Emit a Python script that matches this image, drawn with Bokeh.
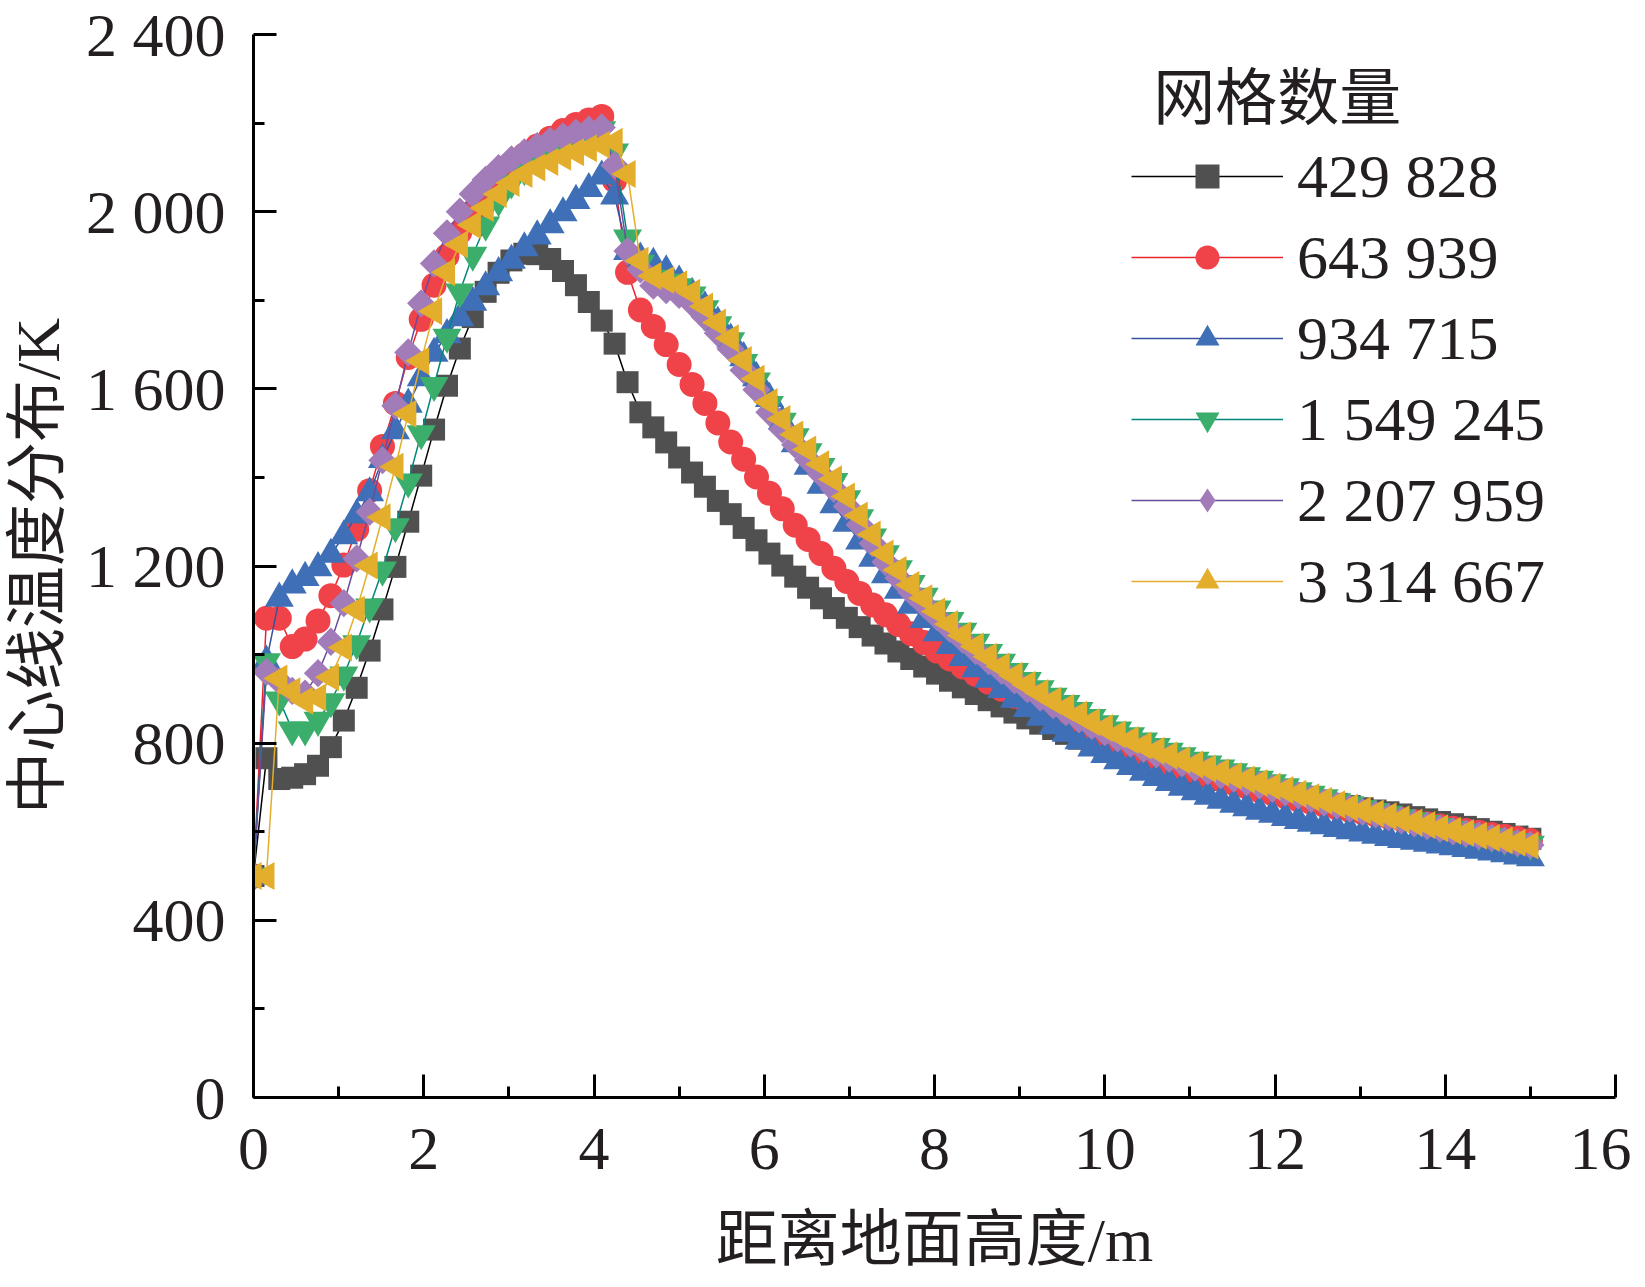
import math
from bokeh.plotting import figure
from bokeh.models import Range1d, FixedTicker, Legend, LegendItem, Label
from bokeh.embed import file_html
from bokeh.resources import INLINE

# ---- data ----
height_m = [0.0, 0.152, 0.303, 0.455, 0.606, 0.758, 0.909, 1.061, 1.212, 1.364,
            1.515, 1.667, 1.818, 1.97, 2.121, 2.273, 2.424, 2.576, 2.727, 2.879,
            3.03, 3.182, 3.333, 3.485, 3.636, 3.788, 3.939, 4.091, 4.242, 4.394,
            4.545, 4.697, 4.848, 5.0, 5.152, 5.303, 5.455, 5.606, 5.758, 5.909,
            6.061, 6.212, 6.364, 6.515, 6.667, 6.818, 6.97, 7.121, 7.273, 7.424,
            7.576, 7.727, 7.879, 8.03, 8.182, 8.333, 8.485, 8.636, 8.788, 8.939,
            9.091, 9.242, 9.394, 9.545, 9.697, 9.848, 10.0, 10.152, 10.303, 10.455,
            10.606, 10.758, 10.909, 11.061, 11.212, 11.364, 11.515, 11.667, 11.818, 11.97,
            12.121, 12.273, 12.424, 12.576, 12.727, 12.879, 13.03, 13.182, 13.333, 13.485,
            13.636, 13.788, 13.939, 14.091, 14.242, 14.394, 14.545, 14.697, 14.848, 15.0]

t_429828 = [500, 766, 719, 722, 730, 749, 791, 851, 925, 1009,
            1102, 1198, 1300, 1404, 1508, 1607, 1691, 1762, 1819, 1862,
            1890, 1905, 1904, 1893, 1866, 1834, 1796, 1754, 1702, 1615,
            1547, 1513, 1479, 1445, 1411, 1379, 1347, 1317, 1286, 1258,
            1228, 1201, 1176, 1151, 1127, 1105, 1083, 1062, 1043, 1025,
            1007, 990, 973, 957, 941, 926, 911, 897, 883, 869,
            856, 844, 832, 821, 810, 800, 790, 781, 772, 763,
            755, 747, 739, 731, 724, 717, 710, 703, 697, 691,
            685, 679, 674, 668, 663, 658, 653, 648, 644, 639,
            633, 628, 622, 617, 611, 606, 600, 595, 589, 584]

t_643939 = [500, 1082, 1082, 1018, 1035, 1076, 1133, 1202, 1283, 1370,
            1470, 1567, 1671, 1757, 1834, 1900, 1954, 2000, 2040, 2075,
            2105, 2128, 2148, 2166, 2183, 2197, 2207, 2215, 2070, 1863,
            1778, 1741, 1700, 1655, 1610, 1567, 1523, 1480, 1441, 1401,
            1364, 1329, 1292, 1260, 1228, 1195, 1165, 1138, 1112, 1090,
            1068, 1047, 1027, 1008, 990, 972, 955, 938, 922, 906,
            891, 876, 862, 848, 835, 822, 810, 798, 787, 776,
            765, 755, 745, 736, 727, 718, 709, 701, 693, 686,
            679, 672, 666, 660, 654, 648, 643, 638, 633, 628,
            623, 618, 613, 608, 603, 599, 594, 590, 585, 580]

t_934715 = [500, 985, 1127, 1157, 1174, 1196, 1226, 1268, 1315, 1365,
            1440, 1505, 1565, 1625, 1680, 1722, 1760, 1795, 1830, 1862,
            1890, 1918, 1945, 1970, 1997, 2025, 2052, 2080, 2035, 1910,
            1895, 1883, 1866, 1843, 1815, 1785, 1750, 1712, 1670, 1625,
            1578, 1527, 1476, 1425, 1382, 1338, 1296, 1256, 1217, 1180,
            1145, 1111, 1079, 1049, 1020, 993, 968, 944, 921, 899,
            878, 858, 839, 822, 805, 789, 774, 760, 747, 734,
            722, 711, 700, 690, 680, 671, 662, 654, 646, 639,
            632, 625, 619, 613, 607, 602, 597, 592, 587, 582,
            578, 574, 570, 566, 562, 558, 554, 550, 545, 541]

t_1549245 = [500, 984, 898, 830, 830, 852, 894, 954, 1025, 1108,
             1191, 1289, 1390, 1499, 1608, 1717, 1819, 1902, 1970, 2025,
             2065, 2095, 2120, 2140, 2156, 2170, 2180, 2185, 2135, 1941,
             1884, 1850, 1841, 1831, 1812, 1781, 1745, 1709, 1660, 1618,
             1565, 1527, 1492, 1458, 1425, 1391, 1352, 1309, 1266, 1228,
             1194, 1161, 1132, 1103, 1077, 1053, 1028, 1005, 983, 962,
             942, 923, 906, 890, 874, 858, 844, 830, 817, 805,
             793, 782, 772, 762, 753, 744, 736, 727, 719, 711,
             702, 693, 685, 677, 668, 661, 653, 646, 640, 632,
             625, 619, 612, 606, 600, 594, 589, 583, 578, 572]

t_2207959 = [500, 961, 940, 918, 912, 958, 1029, 1116, 1217, 1322,
             1439, 1562, 1682, 1793, 1883, 1951, 2000, 2040, 2072, 2098,
             2118, 2134, 2148, 2160, 2170, 2178, 2185, 2190, 2105, 1911,
             1870, 1833, 1823, 1812, 1793, 1762, 1726, 1690, 1642, 1598,
             1547, 1509, 1474, 1440, 1407, 1374, 1335, 1293, 1251, 1209,
             1173, 1141, 1113, 1085, 1058, 1033, 1008, 985, 963, 942,
             922, 903, 886, 870, 854, 839, 825, 811, 799, 787,
             775, 765, 755, 745, 737, 728, 720, 712, 705, 697,
             689, 682, 674, 666, 659, 652, 645, 639, 633, 626,
             619, 613, 607, 601, 596, 591, 586, 580, 575, 570]

t_3314667 = [500, 500, 946, 917, 896, 903, 949, 1016, 1101, 1201,
             1310, 1424, 1544, 1663, 1775, 1863, 1926, 1970, 2008, 2040,
             2065, 2085, 2100, 2112, 2124, 2134, 2143, 2151, 2158, 2085,
             1889, 1855, 1846, 1836, 1817, 1786, 1750, 1714, 1665, 1623,
             1570, 1532, 1497, 1463, 1430, 1396, 1357, 1314, 1271, 1228,
             1191, 1157, 1127, 1097, 1069, 1043, 1018, 995, 973, 952,
             932, 913, 896, 880, 864, 848, 834, 820, 807, 795,
             783, 772, 762, 752, 743, 734, 726, 718, 710, 702,
             694, 686, 678, 670, 662, 655, 648, 641, 635, 628,
             621, 615, 608, 602, 597, 591, 586, 580, 575, 569]

series_labels = ["429 828", "643 939", "934 715", "1 549 245", "2 207 959", "3 314 667"]
series_values = [t_429828, t_643939, t_934715, t_1549245, t_2207959, t_3314667]

x_ticks = [0, 2, 4, 6, 8, 10, 12, 14, 16]
x_minor = [1, 3, 5, 7, 9, 11, 13, 15]
y_ticks = [0, 400, 800, 1200, 1600, 2000, 2400]
y_minor = [200, 600, 1000, 1400, 1800, 2200]
y_tick_labels = {0: "0", 400: "400", 800: "800", 1200: "1 200", 1600: "1 600", 2000: "2 000", 2400: "2 400"}

legend_title = "网格数量"
x_title = "距离地面高度/m"
y_title = "中心线温度分布/K"

# ---- styles ----
# legend_marker: symbol shown in the legend (Bokeh legends draw markers unrotated)
styles = [
    dict(marker="square", size=22, fill="#505050", line="#000000", angle=0.0, legend_marker=None),
    dict(marker="circle", size=25, fill="#F04349", line="#E8262C", angle=0.0, legend_marker=None),
    dict(marker="triangle", size=29, fill="#3F6FB6", line="#35539F", angle=0.0, legend_marker=None),
    dict(marker="inverted_triangle", size=29, fill="#3BAE6B", line="#00877A", angle=0.0, legend_marker=None),
    dict(marker="square", size=20, fill="#A27BB9", line="#6B4B9B", angle=math.pi / 4, legend_marker="diamond"),
    dict(marker="triangle", size=28, fill="#E4AE2D", line="#E4AE2D", angle=math.pi / 2, legend_marker=None),
]

SERIF = "Liberation Serif"
MIXED = "Liberation Serif, Noto Sans CJK SC"
TXT = "#231F20"
FS = "62px"

p = figure(frame_width=1362, frame_height=1063,
           x_range=Range1d(0, 16), y_range=Range1d(0, 2400),
           output_backend="svg", toolbar_location=None,
           min_border_left=251, min_border_top=34,
           min_border_right=16, min_border_bottom=174)
p.xgrid.visible = False
p.ygrid.visible = False
p.outline_line_color = None
p.background_fill_color = "white"
p.border_fill_color = "white"

p.xaxis.ticker = FixedTicker(ticks=x_ticks, minor_ticks=x_minor)
p.yaxis.ticker = FixedTicker(ticks=y_ticks, minor_ticks=y_minor)
p.yaxis.major_label_overrides = y_tick_labels

for ax in (p.xaxis[0], p.yaxis[0]):
    ax.axis_line_width = 3
    ax.axis_line_color = "black"
    ax.major_tick_line_width = 3
    ax.minor_tick_line_width = 3
    ax.major_tick_line_color = "black"
    ax.minor_tick_line_color = "black"
    ax.major_tick_in = 23
    ax.major_tick_out = 0
    ax.minor_tick_in = 11
    ax.minor_tick_out = 0
    ax.major_label_text_font = SERIF
    ax.major_label_text_font_size = FS
    ax.major_label_text_color = TXT
    ax.axis_label_text_font = MIXED
    ax.axis_label_text_font_size = FS
    ax.axis_label_text_font_style = "normal"
    ax.axis_label_text_color = TXT

p.xaxis.axis_label = x_title
p.yaxis.axis_label = y_title
p.xaxis.major_label_standoff = 31
p.yaxis.major_label_standoff = 28
p.xaxis.axis_label_standoff = 34
p.yaxis.axis_label_standoff = 11

items = []
for lbl, vals, st in zip(series_labels, series_values, styles):
    lr = p.line(height_m, vals, line_color=st["line"], line_width=1.5)
    sr = p.scatter(height_m, vals, marker=st["marker"], size=st["size"],
                   angle=st["angle"], fill_color=st["fill"], line_color=None)
    if st["legend_marker"]:
        # renderer with no drawable point, used only for the legend symbol
        sr = p.scatter([float("nan")], [float("nan")], marker=st["legend_marker"],
                       size=st["size"], fill_color=st["fill"], line_color=None)
    items.append(LegendItem(label=lbl, renderers=[lr, sr]))

legend = Legend(items=items, location=(878, 476),
                glyph_width=152, glyph_height=60, label_height=80,
                spacing=1, padding=0, margin=0, label_standoff=14,
                border_line_color=None, background_fill_alpha=0,
                label_text_font=SERIF, label_text_font_size=FS,
                label_text_color=TXT)
p.add_layout(legend)

p.add_layout(Label(x=10.57, y=2255, text=legend_title, text_font=MIXED,
                   text_font_size=FS, text_color=TXT, text_baseline="middle",
                   text_align="left"))

open("out.html", "w").write(file_html(p, INLINE))
